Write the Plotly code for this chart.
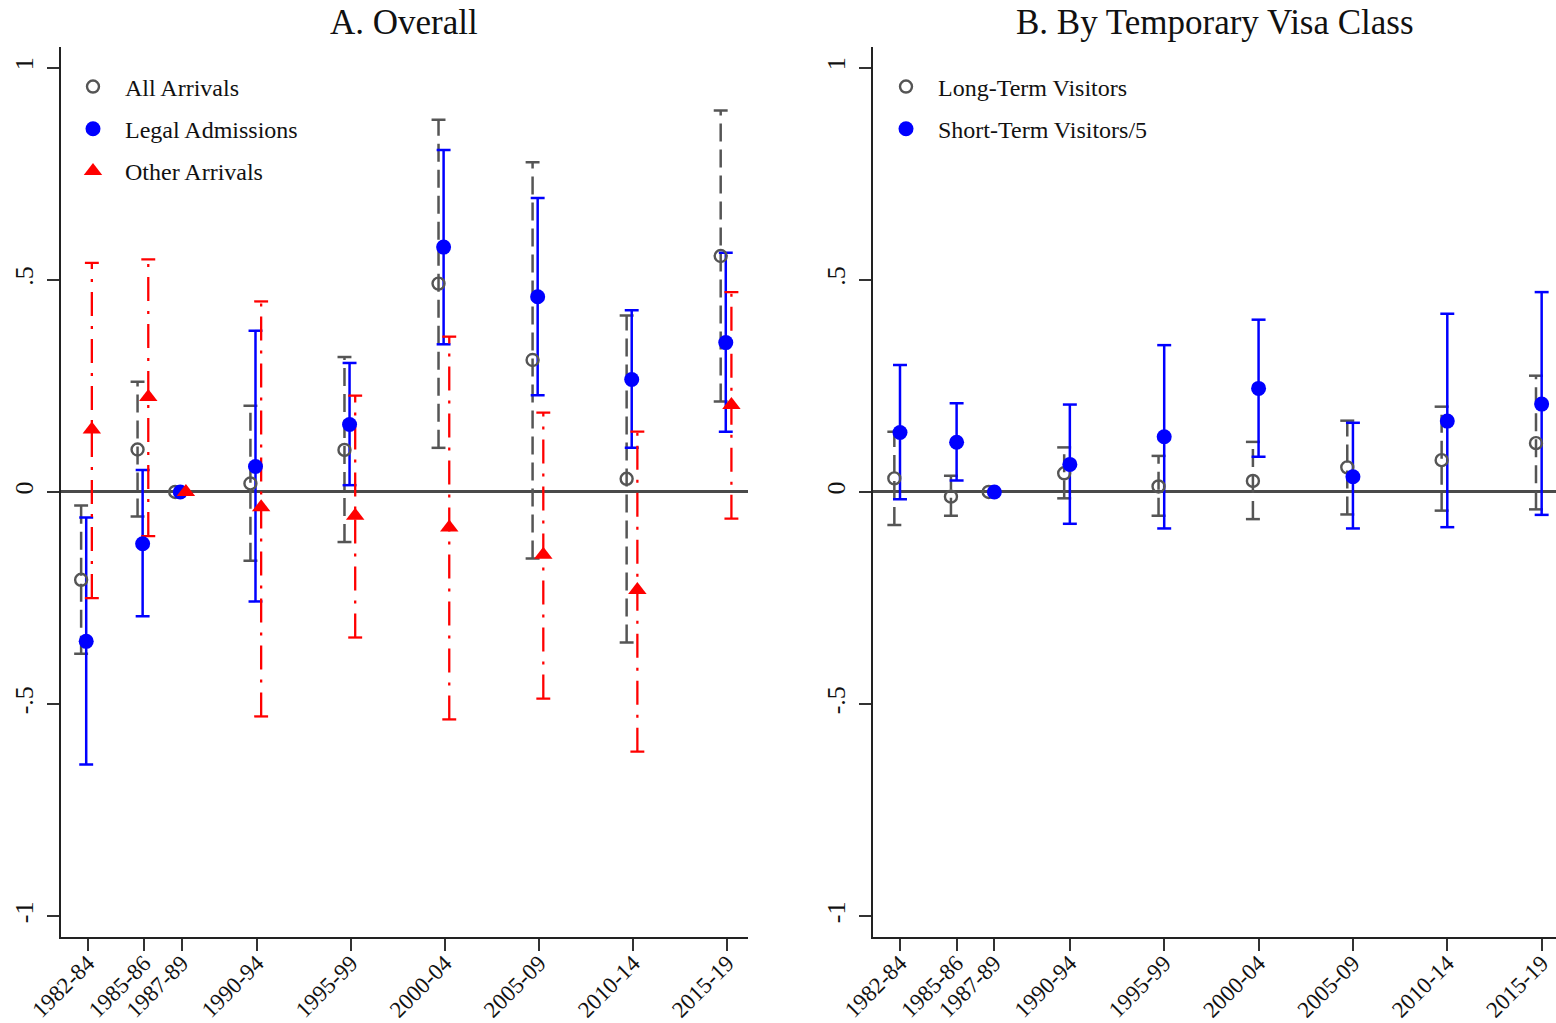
import plotly.graph_objects as go

# ---------------- data ----------------
periods = ["1982-84", "1985-86", "1987-89", "1990-94", "1995-99",
           "2000-04", "2005-09", "2010-14", "2015-19"]
period_pos = [1983, 1986, 1988, 1992, 1997, 2002, 2007, 2012, 2017]

# Panel A
all_est = [-0.207, 0.100, 0.0, 0.020, 0.099, 0.491, 0.311, 0.031, 0.556]
all_lo  = [-0.381, -0.058, None, -0.162, -0.118, 0.104, -0.157, -0.355, 0.213]
all_hi  = [-0.032, 0.260, None, 0.203, 0.318, 0.877, 0.777, 0.416, 0.899]

legal_est = [-0.352, -0.122, 0.0, 0.060, 0.159, 0.577, 0.460, 0.265, 0.352]
legal_lo  = [-0.642, -0.293, None, -0.258, 0.016, 0.348, 0.228, 0.104, 0.142]
legal_hi  = [-0.060, 0.052, None, 0.380, 0.304, 0.806, 0.693, 0.428, 0.564]

other_est = [0.147, 0.224, 0.0, -0.036, -0.056, -0.084, -0.148, -0.231, 0.205]
other_lo  = [-0.250, -0.104, None, -0.529, -0.343, -0.536, -0.487, -0.612, -0.063]
other_hi  = [0.540, 0.548, None, 0.449, 0.227, 0.366, 0.187, 0.142, 0.471]

# Panel B
long_est = [0.032, -0.011, 0.0, 0.044, 0.013, 0.026, 0.058, 0.075, 0.115]
long_lo  = [-0.078, -0.056, None, -0.015, -0.056, -0.064, -0.053, -0.044, -0.041]
long_hi  = [0.142, 0.038, None, 0.105, 0.085, 0.118, 0.168, 0.201, 0.274]

short_est = [0.140, 0.117, 0.0, 0.065, 0.130, 0.244, 0.036, 0.167, 0.207]
short_lo  = [-0.017, 0.027, None, -0.075, -0.086, 0.083, -0.086, -0.083, -0.054]
short_hi  = [0.299, 0.209, None, 0.206, 0.346, 0.406, 0.163, 0.420, 0.471]

y_tickvals = [-1, -0.5, 0, 0.5, 1]
y_ticktext = ["-1", "-.5", "0", ".5", "1"]

GRAY = "#555555"
BLUE = "#0000FF"
RED = "#FF0000"
FONT = "Liberation Serif"
CAP = 0.37

fig = go.Figure()


def shifted(off):
    return [p + off for p in period_pos]


def add_series(xa, ya, off, est, lo, hi, color, dash, lw):
    xs = shifted(off)
    vx, vy, cx, cy = [], [], [], []
    for x, l, h in zip(xs, lo, hi):
        if l is None or h is None:
            continue
        vx += [x, x, None]
        vy += [l, h, None]
        for v in (l, h):
            cx += [x - CAP, x + CAP, None]
            cy += [v, v, None]
    fig.add_trace(go.Scatter(x=vx, y=vy, mode="lines", xaxis=xa, yaxis=ya,
                             line=dict(color=color, width=lw, dash=dash),
                             showlegend=False, hoverinfo="skip"))
    fig.add_trace(go.Scatter(x=cx, y=cy, mode="lines", xaxis=xa, yaxis=ya,
                             line=dict(color=color, width=lw),
                             showlegend=False, hoverinfo="skip"))


def add_points(xa, ya, off, est, name, marker, legend, group):
    fig.add_trace(go.Scatter(x=shifted(off), y=est, mode="markers", name=name,
                             xaxis=xa, yaxis=ya, marker=marker,
                             legend=legend, legendgroup=group))


GDASH = "18px,8px"
RDASH = "24px,10px,3px,10px"

# Panel A error bars
add_series("x", "y", -0.35, all_est, all_lo, all_hi, GRAY, GDASH, 2.5)
add_series("x", "y", -0.08, legal_est, legal_lo, legal_hi, BLUE, "solid", 2.5)
add_series("x", "y", 0.22, other_est, other_lo, other_hi, RED, RDASH, 2.3)
# Panel B error bars
add_series("x2", "y2", -0.30, long_est, long_lo, long_hi, GRAY, GDASH, 2.5)
add_series("x2", "y2", 0.0, short_est, short_lo, short_hi, BLUE, "solid", 2.5)

gray_m = dict(symbol="circle-open", size=12, color=GRAY, line=dict(width=2.4, color=GRAY))
blue_m = dict(symbol="circle", size=15, color=BLUE)
red_m = dict(symbol="triangle-up", size=16, color=RED)

add_points("x", "y", -0.35, all_est, "All Arrivals", gray_m, "legend", "a1")
add_points("x", "y", -0.08, legal_est, "Legal Admissions", blue_m, "legend", "a2")
add_points("x", "y", 0.22, other_est, "Other Arrivals", red_m, "legend", "a3")
add_points("x2", "y2", -0.30, long_est, "Long-Term Visitors", gray_m, "legend2", "b1")
add_points("x2", "y2", 0.0, short_est, "Short-Term Visitors/5", blue_m, "legend2", "b2")

axis_common = dict(showline=True, linecolor="#222222", linewidth=2,
                   ticks="outside", ticklen=12, tickwidth=2, tickcolor="#333333",
                   showgrid=False, automargin=False)

xax = dict(tickvals=period_pos, ticktext=periods, tickangle=-45, zeroline=False,
           ticklabelstandoff=-10,
           tickfont=dict(family=FONT, size=23, color="#111111"),
           **axis_common)
yax = dict(tickvals=y_tickvals, ticktext=y_ticktext, tickangle=-90,
           range=[-1.048, 1.048], zeroline=True, zerolinecolor="#4a4a4a",
           zerolinewidth=3, ticklabelstandoff=4,
           tickfont=dict(family=FONT, size=26, color="#111111"),
           **axis_common)

YDOM = [0.0844, 0.9538]
LEGFONT = dict(family=FONT, size=24, color="#111111")
fig.update_layout(
    width=1556, height=1023,
    margin=dict(l=0, r=0, t=0, b=0),
    paper_bgcolor="white", plot_bgcolor="white",
    font=dict(family=FONT, color="#111111"),
    xaxis=dict(domain=[0.0392, 0.4807], range=[1981.58, 2018.1], **xax),
    yaxis=dict(domain=YDOM, anchor="x", **yax),
    xaxis2=dict(domain=[0.5613, 1.0], range=[1981.59, 2017.76], anchor="y2", **xax),
    yaxis2=dict(domain=YDOM, anchor="x2", **yax),
    legend=dict(x=0.0392, y=0.937, xanchor="left", yanchor="top",
                font=LEGFONT, bgcolor="rgba(0,0,0,0)", tracegroupgap=8,
                itemsizing="trace", itemwidth=54),
    legend2=dict(x=0.5617, y=0.937, xanchor="left", yanchor="top",
                 font=LEGFONT, bgcolor="rgba(0,0,0,0)", tracegroupgap=8,
                 itemsizing="trace", itemwidth=54),
    annotations=[
        dict(text="A. Overall", xref="x domain", yref="paper", x=0.5, y=0.978,
             xanchor="center", yanchor="middle", showarrow=False,
             font=dict(family=FONT, size=35, color="#111111")),
        dict(text="B. By Temporary Visa Class", xref="x2 domain", yref="paper",
             x=0.5, y=0.978, xanchor="center", yanchor="middle", showarrow=False,
             font=dict(family=FONT, size=35, color="#111111")),
    ],
)

fig.write_html("out.html")
